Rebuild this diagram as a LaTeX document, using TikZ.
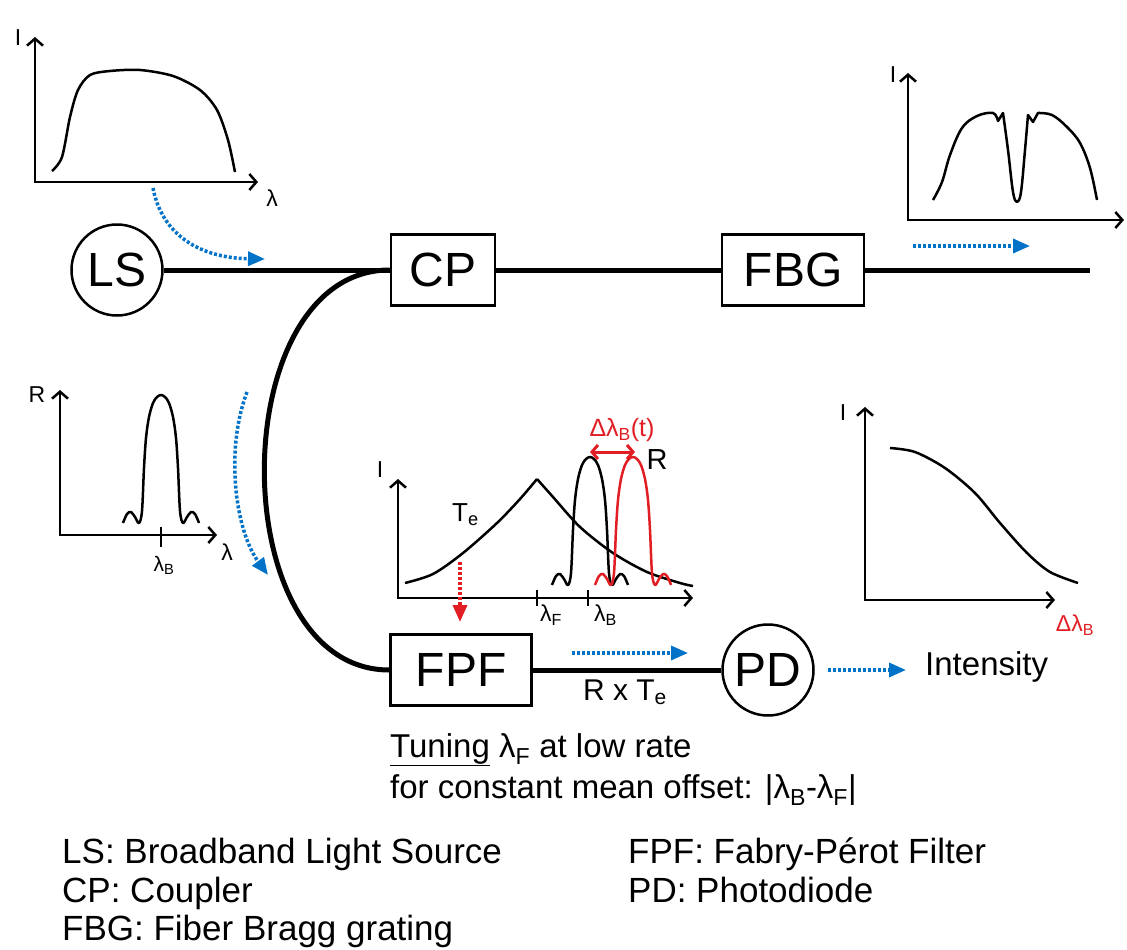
\documentclass[tikz,border=0pt]{standalone}
\usepackage{fontspec}
\setmainfont{Liberation Sans}
\usepackage{xcolor}
\usepackage{tikz}
\usetikzlibrary{arrows.meta,positioning,calc}
\definecolor{beamblue}{RGB}{0,115,200}
\definecolor{shiftred}{RGB}{225,30,35}

\tikzset{
  fiber/.style={line width=5pt},
  comp/.style={draw, line width=2.5pt, minimum height=71pt, inner sep=0pt, font=\fontsize{48}{52}\selectfont},
  port/.style={draw, circle, line width=2.5pt, minimum size=91pt, inner sep=0pt, font=\fontsize{48}{52}\selectfont},
  axes/.style={line width=2.5pt, {Straight Barb[length=7pt,width=16pt]}-{Straight Barb[length=7pt,width=16pt]}},
  spec/.style={line width=2.5pt, line join=round},
  beam/.style={beamblue, line width=3.5pt, dash pattern=on 3pt off 2pt, -{Triangle[length=17pt,width=14pt]}},
  lbl/.style={inner sep=0pt, font=\fontsize{23}{25}\selectfont},
  txt/.style={inner sep=0pt, anchor=base west, font=\fontsize{33}{36}\selectfont},
  bragg/.pic={
    \draw[spec] plot[smooth, tension=0.55] coordinates {(-38,0) (-34,-9) (-30,-11) (-26,-6) (-22,0) (-19,-12) (-17,-55) (-15,-85) (-12,-106) (-8,-120) (-4,-126) (0,-128) (4,-126) (8,-120) (12,-106) (15,-85) (17,-55) (19,-12) (22,0) (26,-6) (30,-11) (34,-9) (38,0)};
  }
}

\begin{document}
\begin{tikzpicture}[x=1pt, y=-1pt]
  \useasboundingbox (0,0) rectangle (1127,950);

  % Define nodes
  \node[port] (LS) at (117,270) {LS};
  \node[comp, minimum width=104pt] (CP) at (443,270) {CP};
  \node[comp, minimum width=142pt] (FBG) at (793,270) {FBG};
  \coordinate (end) at (1090,270);
  \node[comp, minimum width=141pt] (FPF) at (461,670) {FPF};
  \node[port] (PD) at (768,670) {PD};

  % Draw fibers
  \draw[fiber] (LS) -- (CP);
  \draw[fiber] (CP) -- (FBG);
  \draw[fiber] (FBG) -- (end);
  \draw[fiber] (CP.west) to[out=180, in=180, looseness=1.07] (FPF.west);
  \draw[fiber] (FPF) -- (PD);

  % Source spectrum
  \draw[axes] (35,37) -- (35,182) -- (258,182);
  \node[lbl] (lsI) at (18,38) {I};
  \node[lbl] (lsLam) at (272,198) {λ};
  \draw[spec] plot[smooth] coordinates {(52,171) (62,157) (70,117) (78,90) (90,75) (110,71) (140,70) (173,76) (200,90) (217,110) (228,140) (235,172)};

  % Transmitted spectrum
  \draw[axes] (908,73) -- (908,220) -- (1124,220);
  \node[lbl] (fbgI) at (893,75) {I};
  \draw[spec] plot[smooth, tension=0.6] coordinates {(933,200) (942,182) (950,155) (962,128) (977,116) (993,113) (998,121)}
    -- (1003,113)
    -- plot[smooth, tension=0.6] coordinates {(1003,113) (1008,150) (1013,192) (1017,202) (1021,192) (1025,150) (1028,115)}
    -- (1033,122)
    -- plot[smooth, tension=0.6] coordinates {(1038,113) (1052,115) (1067,127) (1080,143) (1090,168) (1097,200)};

  % Reflected spectrum
  \draw[axes] (60,390) -- (60,535) -- (217,535);
  \draw[line width=2.5pt] (161,527) -- (161,547);
  \node[lbl] (rR) at (37,395) {R};
  \node[lbl] (rLam) at (227,552) {λ};
  \node[lbl, font=\fontsize{21}{23}\selectfont] (rLamB) at (164,565) {λ\textsubscript{B}};
  \pic at (161,523) {bragg};

  % Filter and grating
  \draw[axes] (398,479) -- (398,598) -- (693,598);
  \draw[line width=2.5pt] (537,590) -- (537,606);
  \draw[line width=2.5pt] (588,590) -- (588,606);
  \node[lbl] (teI) at (380,470) {I};
  \node[lbl, anchor=west, font=\fontsize{26}{28}\selectfont] (teT) at (452,515) {T\textsubscript{e}};
  \node[lbl, anchor=north west] (teLamF) at (540,605) {λ\textsubscript{F}};
  \node[lbl, anchor=north west] (teLamB) at (594,605) {λ\textsubscript{B}};
  \draw[spec] plot[smooth] coordinates {(405,583) (433,574) (463,553) (497,523) (520,499) (537,479)};
  \draw[spec] plot[smooth] coordinates {(537,479) (553,497) (580,527) (613,553) (647,572) (680,583) (693,586)};
  \pic at (590,585) {bragg};
  \pic[shiftred] at (633,585) {bragg};
  \draw[shiftred, line width=3pt, {Straight Barb[length=6pt,width=14pt]}-{Straight Barb[length=6pt,width=14pt]}] (590,452) -- (635,452);
  \node[lbl, shiftred, font=\fontsize{25}{27}\selectfont] (shift) at (622,430) {Δλ\textsubscript{B}(t)};
  \node[lbl, font=\fontsize{29}{31}\selectfont] (teR) at (657,460) {R};
  \draw[shiftred, line width=3.5pt, dash pattern=on 3pt off 2pt, -{Triangle[length=17pt,width=14pt]}] (460,562) -- (460,622);

  % Detected intensity
  \draw[axes] (865,407) -- (865,600) -- (1055,600);
  \node[lbl] (outI) at (843,413) {I};
  \node[lbl, shiftred] (outDelta) at (1075,625) {Δλ\textsubscript{B}};
  \draw[spec] plot[smooth] coordinates {(890,448) (915,452) (945,468) (975,493) (1000,523) (1027,553) (1050,572) (1078,583)};

  % Light paths
  \draw[beam] (153,188) .. controls (162,235) and (200,258) .. (265,259);
  \draw[beam] (913,246) -- (1030,246);
  \draw[beam] (247,392) .. controls (225,450) and (235,530) .. (268,575);
  \draw[beam] (572,653) -- (688,653);
  \node[txt] (intens) at (925,675) {Intensity};
  \draw[beam, shorten <=13pt, shorten >=19pt] (PD.east) -- (PD.east -| intens.west);

  % Texts
  \node[lbl, font=\fontsize{30}{32}\selectfont] (prod) at (625,692) {R x T\textsubscript{e}};
  \node[txt] (tune1) at (390,757) {\underline{Tuning} λ\textsubscript{F} at low rate};
  \node[txt] (tune2) at (390,798) {for constant mean offset: |λ\textsubscript{B}-λ\textsubscript{F}|};

  % Legend
  \node[txt, font=\fontsize{35}{38}\selectfont] (legLS) at (62,863) {LS: Broadband Light Source};
  \node[txt, font=\fontsize{35}{38}\selectfont] (legCP) at (62,902) {CP: Coupler};
  \node[txt, font=\fontsize{35}{38}\selectfont] (legFBG) at (62,940) {FBG: Fiber Bragg grating};
  \node[txt, font=\fontsize{35}{38}\selectfont] (legFPF) at (628,863) {FPF: Fabry-Pérot Filter};
  \node[txt, font=\fontsize{35}{38}\selectfont] (legPD) at (628,902) {PD: Photodiode};
\end{tikzpicture}
\end{document}
